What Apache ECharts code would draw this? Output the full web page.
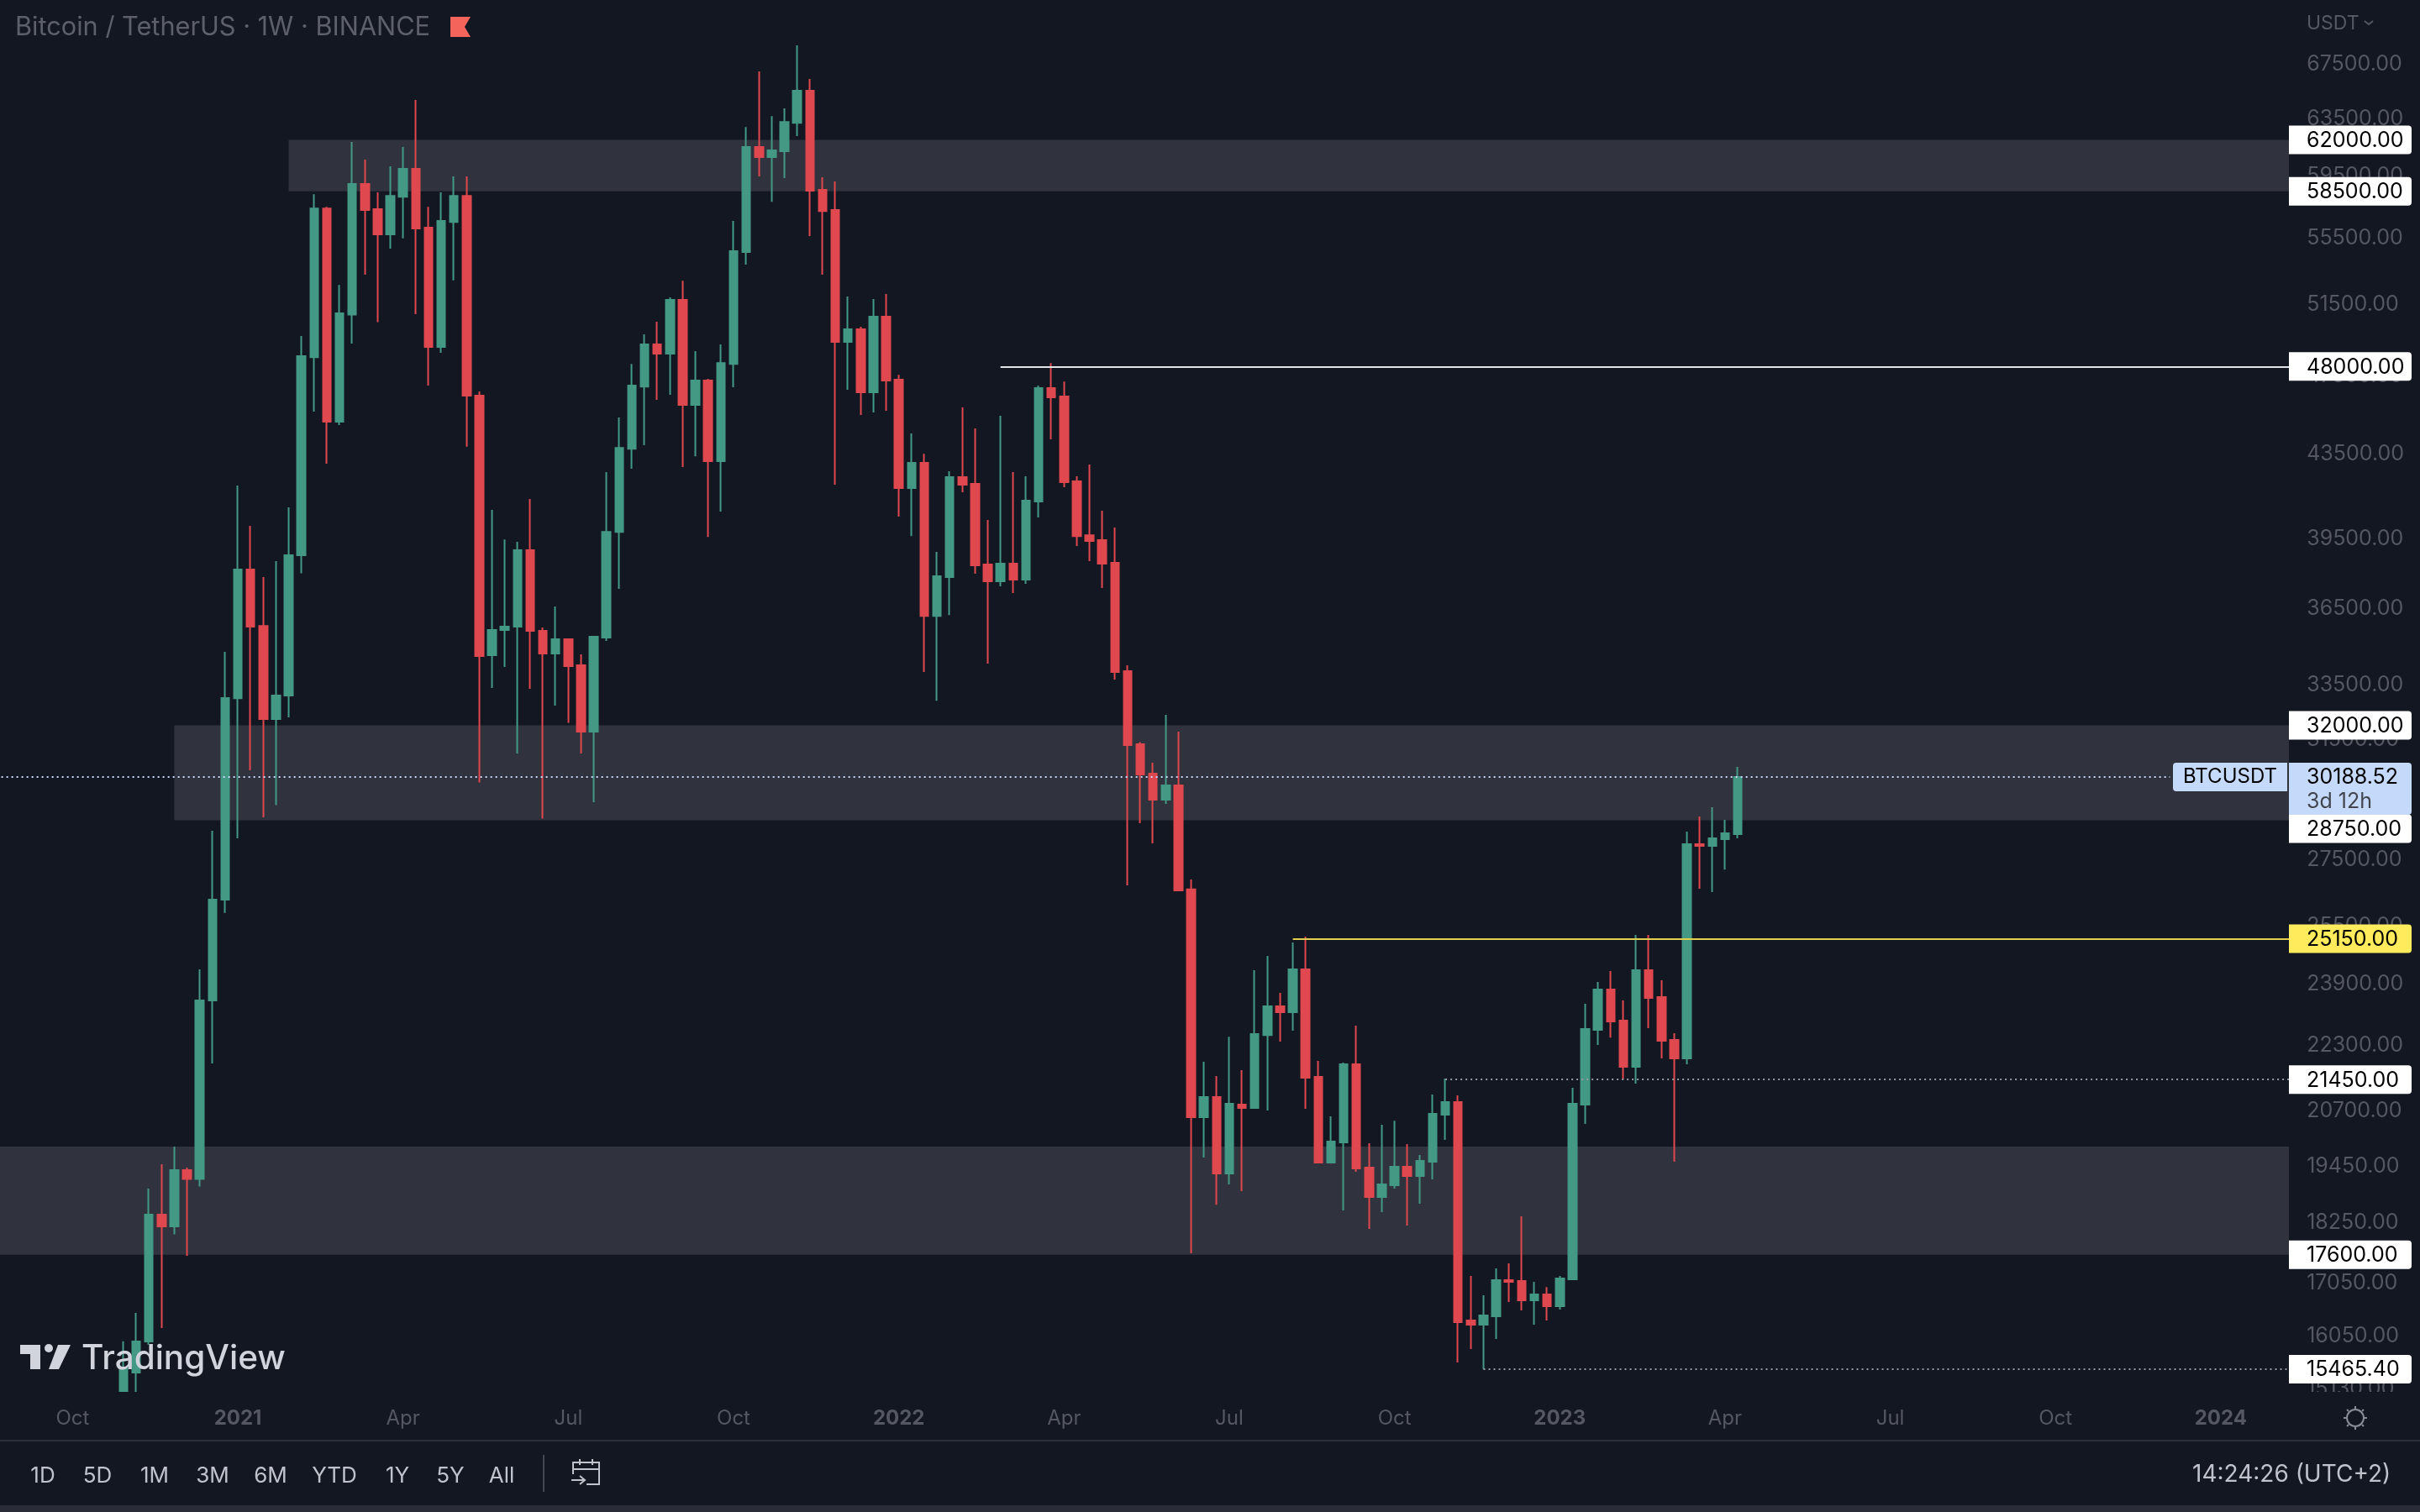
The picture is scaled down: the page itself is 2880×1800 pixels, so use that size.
<!DOCTYPE html>
<html>
<head>
<meta charset="utf-8">
<title>BTCUSDT 1W</title>
<style>
    html, body { margin: 0; padding: 0; background: #131722; }
    #demo { width: 2880px; height: 1800px; }
</style>
<script src="https://cdn.jsdelivr.net/npm/echarts@6/dist/echarts.min.js"></script>
</head>
<body>
<div id="demo"></div>
<script>
// weekly candles, first one is the week of 2 Nov 2020
var opens = [13761,15407,15957,18414,18171,19365,19173,23457,26283,33000,38161,35800,32231,33100,38781,48500,57381,45096,50900,58986,57330,55721,58145,60002,56150,49070,56510,58201,46441,34642,35639,35775,39002,35606,34707,35270,34250,31776,35337,39821,43740,46925,49210,48699,51745,45960,47239,43127,48141,54620,61500,60804,61208,63210,65538,58596,57273,49350,50057,46618,50774,47284,41840,43045,36217,37835,42358,42039,38380,37658,38415,37729,41210,46839,46397,42158,39671,39447,38453,34022,31328,30305,29425,29901,26590,20558,21031,19291,20852,20774,22558,23300,23146,24293,21516,19531,19980,21824,19420,18786,19037,19438,19237,19550,20616,20912,16342,16263,16416,17102,17086,16715,16826,16604,17119,20852,22690,23747,22927,21761,24270,23545,22432,21968,27983,27930,28145,28300];
var highs = [15960,16479,18965,19494,19885,19420,24293,28411,34772,41959,40092,37837,38525,40937,49679,58311,57490,52634,61850,60631,58429,60173,61500,64857,57490,58429,59492,59492,46661,40821,39483,39372,41327,35741,36602,35304,34674,35403,42600,45311,48141,49773,50486,51892,52883,48838,47329,49210,56572,62913,66984,63692,64245,68979,66413,59435,59154,51941,50199,51794,52089,47553,44501,43496,38928,42640,45829,44755,40359,45396,42600,42398,46972,48187,47194,42398,42964,40783,40016,34250,31400,30681,32383,31776,26887,21885,21536,22515,21679,24270,24663,23658,25043,25210,21906,20577,21865,22798,19961,20381,20477,19942,19698,21092,21475,21071,17183,16810,17331,17429,18379,17070,16970,17183,21252,23367,23950,24247,23457,25257,25257,23995,22604,28384,28872,29175,28763,30536];
var lows = [13200,15000,15900,16201,18009,17579,19009,21844,25897,28170,30420,28845,29244,32292,37999,45612,43005,44925,49257,53241,50462,54831,55478,50918,46972,48745,52908,43842,30001,33384,34184,31003,33351,28802,32722,32093,31003,29341,35204,37338,42761,43914,46222,46485,42843,43372,39596,40744,46883,53851,59492,57817,59380,62262,55615,53241,41999,46750,45440,45569,45655,40512,39633,33990,32908,36251,41642,37981,34315,37445,37161,37551,40474,44207,41880,39186,38525,37374,33702,26710,28655,28009,29286,26540,17629,19642,18623,19055,18911,20754,20715,22388,22668,20754,19512,19525,18502,19328,18120,18466,18965,18189,18642,19164,20037,15583,15821,15465.4,16002,16684,16526,16263,16339,16542,17102,20400,22303,22494,21455,21353,22733,21968,19550,21824,26609,26508,27194,28170];
var closes = [15479,15957,18414,18171,19365,19173,23457,26283,33005,38161,35775,32231,33100,38781,48561,57381,45096,50966,58986,57273,55721,58201,60002,56091,49070,56572,58201,46441,34609,35639,35775,39002,35606,34707,35270,34217,31776,35370,39821,43784,46972,49210,48699,51745,45960,47239,43127,48187,54674,61500,60804,61266,63271,65538,58540,57218,49350,50057,46618,50774,47239,41840,43045,36217,37873,42358,41999,38342,37658,38415,37729,41249,46839,46353,42118,39633,39410,38415,33990,31298,30276,29425,29901,26559,20558,21031,19291,20872,20774,22580,23300,23146,24293,21495,19531,19999,21824,19402,18786,19055,19438,19237,19568,20636,20912,16309,16263,16433,17102,17070,16715,16826,16604,17135,20872,22711,23747,22906,21761,24270,23523,22410,21968,27983,27930,28170,28330,30188.52];

var firstCandleCat = 10;  // empty weeks left of the first candle
var catCount = 182;

// time axis
var xTickCats = [6, 19, 32, 45, 58, 71, 84, 97, 110, 123, 136, 149, 162, 175];
var xTickText = ['Oct', '2021', 'Apr', 'Jul', 'Oct', '2022', 'Apr', 'Jul', 'Oct', '2023', 'Apr', 'Jul', 'Oct', '2024'];

// price axis
var priceTicks = [67500, 63500, 59500, 55500, 51500, 47500, 43500, 39500, 36500, 33500, 31500, 29500, 27500, 25500, 23900, 22300, 20700, 19450, 18250, 17050, 16050, 15130];
var priceMin = 15074;
var priceMax = 72613;

// drawn levels
var zoneTop = [62000, 32000, 19885];
var zoneBottom = [58500, 28750, 17600];
var zoneStartCat = [23, 14, null];
var whiteLine = 48000;
var whiteLineCat = 79;
var yellowLine = 25150;
var yellowLineCat = 102;
var dottedLevels = [21450, 15465.4];
var dottedCats = [114, 117];
var whiteTags = [62000, 58500, 48000, 32000, 28750, 21450, 17600, 15465.4];
var lastPrice = 30188.52;
var countdown = '3d 12h';

var rangeButtons = ['1D', '5D', '1M', '3M', '6M', 'YTD', '1Y', '5Y', 'All'];
var rangeButtonX = [51, 116, 184, 253, 322, 398, 473, 536, 597];

var bg = '#131722';
var upColor = '#449985';
var downColor = '#e0484f';
var zoneColor = '#30333d';
var dimText = '#555862';
var font = 'Inter';

window.onload = function() {
    var categories = [];
    var day = new Date(Date.UTC(2020, 7, 24));
    for (var i = 0; i < catCount; i++) {
        categories.push(day.toISOString().slice(0, 10));
        day = new Date(day.getTime() + 7 * 86400000);
    }

    var candleData = [];
    for (var i = 0; i < firstCandleCat; i++) candleData.push(['-', '-', '-', '-']);
    for (var i = 0; i < opens.length; i++) candleData.push([opens[i], closes[i], lows[i], highs[i]]);

    var zones = [];
    for (var i = 0; i < zoneTop.length; i++) {
        var from = { yAxis: zoneTop[i] };
        if (zoneStartCat[i] !== null) from.xAxis = zoneStartCat[i];
        zones.push([from, { yAxis: zoneBottom[i] }]);
    }

    function level(cat, price, color, type) {
        return [
            { coord: [cat, price], lineStyle: { color: color, width: 2, type: type } },
            { coord: [catCount - 1, price] }
        ];
    }
    var dots = [2, 4];
    var lines = [
        level(whiteLineCat, whiteLine, '#e4e5e8', 'solid'),
        level(yellowLineCat, yellowLine, '#e3cf4f', 'solid'),
        level(dottedCats[0], dottedLevels[0], '#9598a1', dots),
        level(dottedCats[1], dottedLevels[1], '#9598a1', dots),
        [
            { coord: [0, lastPrice], lineStyle: { color: '#c8d8f8', width: 2, type: dots } },
            { coord: [171, lastPrice] }
        ]
    ];

    // tag on the price scale, follows the y axis
    function tagSeries(prices, fill) {
        return {
            type: 'custom',
            coordinateSystem: 'cartesian2d',
            z: 6,
            clip: false,
            silent: true,
            data: prices.map(function(p) { return [0, p]; }),
            renderItem: function(params, api) {
                var y = api.coord([0, api.value(1)])[1];
                // the 28750 tag is pushed down by the last price box, same as on the site
                if (api.value(1) === 28750) y += 10;
                return {
                    type: 'group',
                    children: [
                        { type: 'rect', shape: { x: 2724, y: y - 17, width: 146, height: 34, r: [0, 4, 4, 0] }, style: { fill: fill } },
                        { type: 'text', style: { x: 2745, y: y + 1, text: api.value(1).toFixed(2), fill: '#000', font: '25px ' + font, textVerticalAlign: 'middle' } }
                    ]
                };
            }
        };
    }

    var lastPriceSeries = {
        type: 'custom',
        coordinateSystem: 'cartesian2d',
        z: 6,
        clip: false,
        silent: true,
        data: [[0, lastPrice]],
        renderItem: function(params, api) {
            var y = api.coord([0, api.value(1)])[1];
            return {
                type: 'group',
                children: [
                    { type: 'rect', shape: { x: 2586, y: y - 17, width: 136, height: 34, r: [4, 0, 0, 4] }, style: { fill: '#c5dafa' } },
                    { type: 'text', style: { x: 2654, y: y, text: 'BTCUSDT', fill: '#000', font: '24px ' + font, textAlign: 'center', textVerticalAlign: 'middle' } },
                    { type: 'rect', shape: { x: 2724, y: y - 17, width: 146, height: 62, r: [0, 4, 4, 0] }, style: { fill: '#c5dafa' } },
                    { type: 'text', style: { x: 2745, y: y, text: api.value(1).toFixed(2), fill: '#000', font: '25px ' + font, textVerticalAlign: 'middle' } },
                    { type: 'text', style: { x: 2745, y: y + 29, text: countdown, fill: '#43464f', font: '25px ' + font, textVerticalAlign: 'middle' } }
                ]
            };
        }
    };

    function seg(points, color, width, z) {
        return { type: 'polyline', z: z || 9, silent: true, shape: { points: points }, style: { stroke: color, lineWidth: width || 2, fill: null } };
    }
    function label(x, y, text, color, size, align, z, weight) {
        return {
            type: 'text', x: x, y: y, z: z || 9, silent: true,
            style: { text: text, fill: color, font: (weight || 'normal') + ' ' + size + 'px ' + font, textAlign: align || 'left', textVerticalAlign: 'middle' }
        };
    }

    var elements = [
        // right end of the pane, zones stop at the scale
        { type: 'rect', z: 1.5, silent: true, shape: { x: 2724, y: 0, width: 18, height: 1657 }, style: { fill: bg } },
        // bottom panel
        { type: 'rect', z: 7, silent: true, shape: { x: 0, y: 1657, width: 2880, height: 143 }, style: { fill: bg } },
        { type: 'rect', z: 9, silent: true, shape: { x: 0, y: 1714, width: 2880, height: 2 }, style: { fill: '#2a2e39' } },
        { type: 'rect', z: 9, silent: true, shape: { x: 0, y: 1792, width: 2880, height: 8 }, style: { fill: '#2a2d38' } },
        { type: 'rect', z: 9, silent: true, shape: { x: 646, y: 1732, width: 2, height: 44 }, style: { fill: '#434651' } },
        label(18, 33, 'Bitcoin / TetherUS · 1W · BINANCE', '#5d606b', 30.7),
        { type: 'polygon', z: 9, silent: true, shape: { points: [[536, 20], [560, 20], [553, 32], [560, 44], [536, 44]] }, style: { fill: '#f4645a' } },
        label(2745, 28, 'USDT', dimText, 23),
        seg([[2814, 25], [2819, 29], [2824, 25]], dimText, 2),
        label(2609, 1756, '14:24:26 (UTC+2)', '#c0c3cc', 28),
        // calendar icon
        seg([[682, 1755], [682, 1741], [713, 1741], [713, 1767], [698, 1767]], '#c0c3cc', 2),
        seg([[682, 1749], [713, 1749]], '#c0c3cc', 2),
        seg([[690, 1737], [690, 1744]], '#c0c3cc', 2),
        seg([[705, 1737], [705, 1744]], '#c0c3cc', 2),
        seg([[680, 1762], [695, 1762]], '#c0c3cc', 2),
        seg([[690, 1757], [696, 1762], [690, 1767]], '#c0c3cc', 2),
        // settings icon
        { type: 'circle', z: 9, silent: true, shape: { cx: 2803, cy: 1688, r: 10 }, style: { stroke: '#8a8d96', lineWidth: 2, fill: null } },
        seg([[2803, 1674], [2803, 1677]], '#8a8d96', 2),
        seg([[2803, 1699], [2803, 1702]], '#8a8d96', 2),
        seg([[2789, 1688], [2792, 1688]], '#8a8d96', 2),
        seg([[2814, 1688], [2817, 1688]], '#8a8d96', 2),
        seg([[2793, 1678], [2795, 1680]], '#8a8d96', 2),
        seg([[2811, 1696], [2813, 1698]], '#8a8d96', 2),
        seg([[2793, 1698], [2795, 1696]], '#8a8d96', 2),
        seg([[2811, 1680], [2813, 1678]], '#8a8d96', 2),
        // logo
        { type: 'polygon', z: 10, silent: true, shape: { points: [[24, 1601], [48, 1601], [48, 1630], [36, 1630], [36, 1612], [24, 1612]] }, style: { fill: '#d1d4dc' } },
        { type: 'circle', z: 10, silent: true, shape: { cx: 58, cy: 1605, r: 5 }, style: { fill: '#d1d4dc' } },
        { type: 'polygon', z: 10, silent: true, shape: { points: [[69, 1601], [84, 1601], [70, 1630], [58, 1630]] }, style: { fill: '#d1d4dc' } },
        label(97, 1618, 'TradingView', '#d1d4dc', 40.5, 'left', 10, '500')
    ];
    for (var i = 0; i < rangeButtons.length; i++) {
        elements.push(label(rangeButtonX[i], 1757, rangeButtons[i], '#c0c3cc', 26, 'center'));
    }

    var option = {
        animation: false,
        backgroundColor: bg,
        grid: { left: -11.93, top: 0, width: 15.127 * catCount, height: 1657, containLabel: false, outerBoundsMode: 'none' },
        xAxis: {
            type: 'category',
            data: categories,
            z: 8,
            axisLine: { show: false },
            axisTick: { show: false },
            splitLine: { show: false },
            axisLabel: {
                margin: 20,
                interval: function(index) { return xTickCats.indexOf(index) >= 0; },
                formatter: function(value, index) {
                    var text = xTickText[xTickCats.indexOf(index)];
                    return /^\d/.test(text) ? '{year|' + text + '}' : text;
                },
                color: dimText,
                fontSize: 24,
                fontFamily: font,
                rich: { year: { color: dimText, fontSize: 24, fontFamily: font, fontWeight: 'bold' } }
            }
        },
        yAxis: {
            type: 'log',
            position: 'right',
            min: priceMin,
            max: priceMax,
            axisLine: { show: false },
            axisTick: { show: false },
            splitLine: { show: false },
            axisLabel: {
                customValues: priceTicks,
                margin: 4,
                padding: [6, 0, 0, 0],
                color: dimText,
                fontSize: 25,
                fontFamily: font,
                formatter: function(v) { return Number(v).toFixed(2); }
            }
        },
        series: [{
            type: 'candlestick',
            data: candleData,
            barWidth: 10,
            itemStyle: {
                color: upColor,
                color0: downColor,
                borderColor: upColor,
                borderColor0: downColor,
                borderWidth: 2
            },
            markArea: {
                silent: true,
                z: 1,
                itemStyle: { color: zoneColor },
                data: zones
            },
            markLine: {
                silent: true,
                symbol: 'none',
                label: { show: false },
                data: lines
            }
        },
        tagSeries(whiteTags, '#ffffff'),
        tagSeries([yellowLine], '#ffeb5b'),
        lastPriceSeries],
        graphic: { elements: elements }
    };

    var myCharts = echarts.init(document.getElementById('demo'));
    myCharts.setOption(option);
}
</script>
</body>
</html>
